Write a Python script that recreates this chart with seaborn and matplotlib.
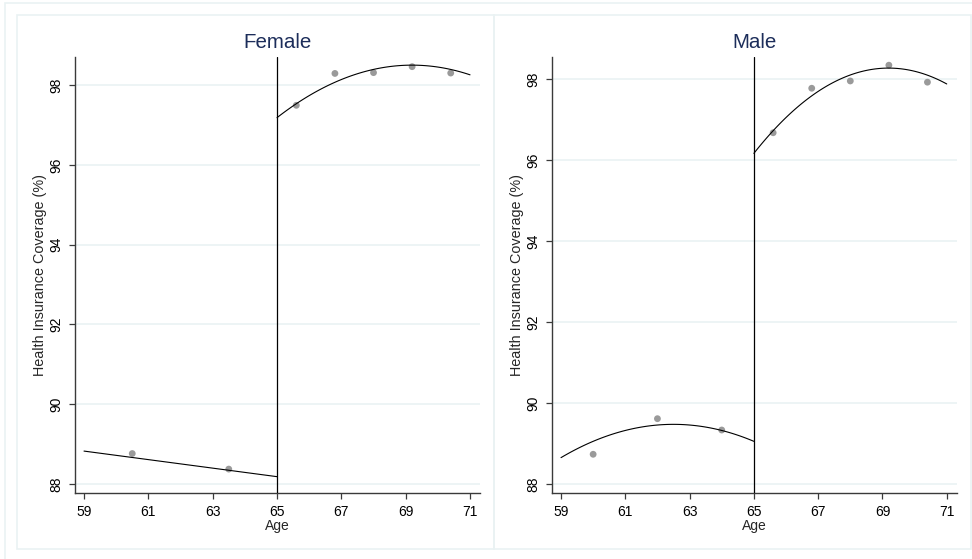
import numpy as np
import pandas as pd
import matplotlib
matplotlib.use("Agg")
import matplotlib.pyplot as plt
import seaborn as sns
from matplotlib.patches import Rectangle

# ---------------- data ----------------
panels = ["Female", "Male"]
female_age = [60.5, 63.5, 65.6, 66.8, 68.0, 69.2, 70.4]
female_cov = [88.76, 88.37, 97.50, 98.30, 98.32, 98.47, 98.31]
male_age = [60.0, 62.0, 64.0, 65.6, 66.8, 68.0, 69.2, 70.4]
male_cov = [88.73, 89.61, 89.33, 96.68, 97.78, 97.96, 98.35, 97.93]
# fitted curves: coverage = c0 + c1*(age-65) + c2*(age-65)^2, one each side of the cutoff
female_fit_below = [88.18, -0.107, 0.0]
female_fit_above = [97.19, 0.628, -0.0748]
male_fit_below = [89.05, -0.336, -0.0672]
male_fit_above = [96.17, 1.006, -0.120]
cutoff = 65
age_min, age_max = 59, 71
x_ticks = [59, 61, 63, 65, 67, 69, 71]
y_ticks = [88, 90, 92, 94, 96, 98]
y_limits = {"Female": (87.77, 98.72), "Male": (87.78, 98.56)}
x_limits = (58.72, 71.31)

points = {"Female": (female_age, female_cov), "Male": (male_age, male_cov)}
fits = {"Female": (female_fit_below, female_fit_above),
        "Male": (male_fit_below, male_fit_above)}

# ---------------- style ----------------
sns.set_style("white")
plt.rcParams["font.family"] = ["Liberation Sans", "DejaVu Sans"]

W, H = 972, 559
fig = plt.figure(figsize=(W / 100, H / 100), dpi=100)
fig.patch.set_facecolor("white")

frame_col = "#eaf2f3"
grid_col = "#eaf2f3"
title_col = "#1c2d5a"
spine_col = "#3a3a3a"


def px_rect(x0, y0, x1, y1):
    return [x0 / W, 1 - y1 / H, (x1 - x0) / W, (y1 - y0) / H]


# outer frame and panel frames
fig.patches.append(Rectangle((5 / W, -0.05), 1.2, 1 - 3 / H + 0.05, transform=fig.transFigure,
                             fill=False, edgecolor=frame_col, lw=1.2))
for (x0, x1) in [(17, 494), (494, 971)]:
    fig.patches.append(Rectangle((x0 / W, 1 - 549 / H), (x1 - x0) / W, (549 - 15) / H,
                                 transform=fig.transFigure, fill=False,
                                 edgecolor=frame_col, lw=1.2))

axes_px = {"Female": (75, 56.7, 480, 493), "Male": (552, 56.7, 956.7, 492.7)}

for name in panels:
    ax = fig.add_axes(px_rect(*axes_px[name]))
    ax.set_facecolor("white")
    ages, cov = points[name]
    df = pd.DataFrame({"Age": ages, "Coverage": cov})
    sns.scatterplot(data=df, x="Age", y="Coverage", ax=ax, color="#9a9a9a",
                    s=24, edgecolor="none", zorder=3)
    below, above = fits[name]
    for coefs, lo, hi in [(below, age_min, cutoff), (above, cutoff, age_max)]:
        a = np.linspace(lo, hi, 100)
        t = a - cutoff
        fdf = pd.DataFrame({"Age": a, "Fit": coefs[0] + coefs[1] * t + coefs[2] * t ** 2})
        sns.lineplot(data=fdf, x="Age", y="Fit", ax=ax, color="black", lw=0.8, zorder=4)
    ax.axvline(cutoff, color="black", lw=0.9, zorder=5)

    ax.set_xlim(*x_limits)
    ax.set_ylim(*y_limits[name])
    ax.set_xticks(x_ticks)
    ax.set_yticks(y_ticks)
    ax.set_xticklabels([str(v) for v in x_ticks])
    ax.set_yticklabels([str(v) for v in y_ticks], rotation=90, va="center")
    ax.grid(axis="y", color=grid_col, lw=1.2)
    ax.grid(axis="x", visible=False)
    ax.set_axisbelow(True)
    for s in ["top", "right"]:
        ax.spines[s].set_visible(False)
    for s in ["left", "bottom"]:
        ax.spines[s].set_color(spine_col)
        ax.spines[s].set_linewidth(1.0)
    ax.tick_params(axis="both", which="major", direction="out", length=4,
                   width=0.9, color=spine_col, labelsize=10, pad=4.5,
                   left=True, bottom=True, labelcolor="black")
    ax.set_xlabel("Age", fontsize=10, labelpad=0)
    ax.set_ylabel("Health Insurance Coverage (%)", fontsize=10.4, labelpad=1.5)
    ax.set_title(name, fontsize=14.8, color=title_col, pad=6)

fig.savefig("out.png", dpi=100)
